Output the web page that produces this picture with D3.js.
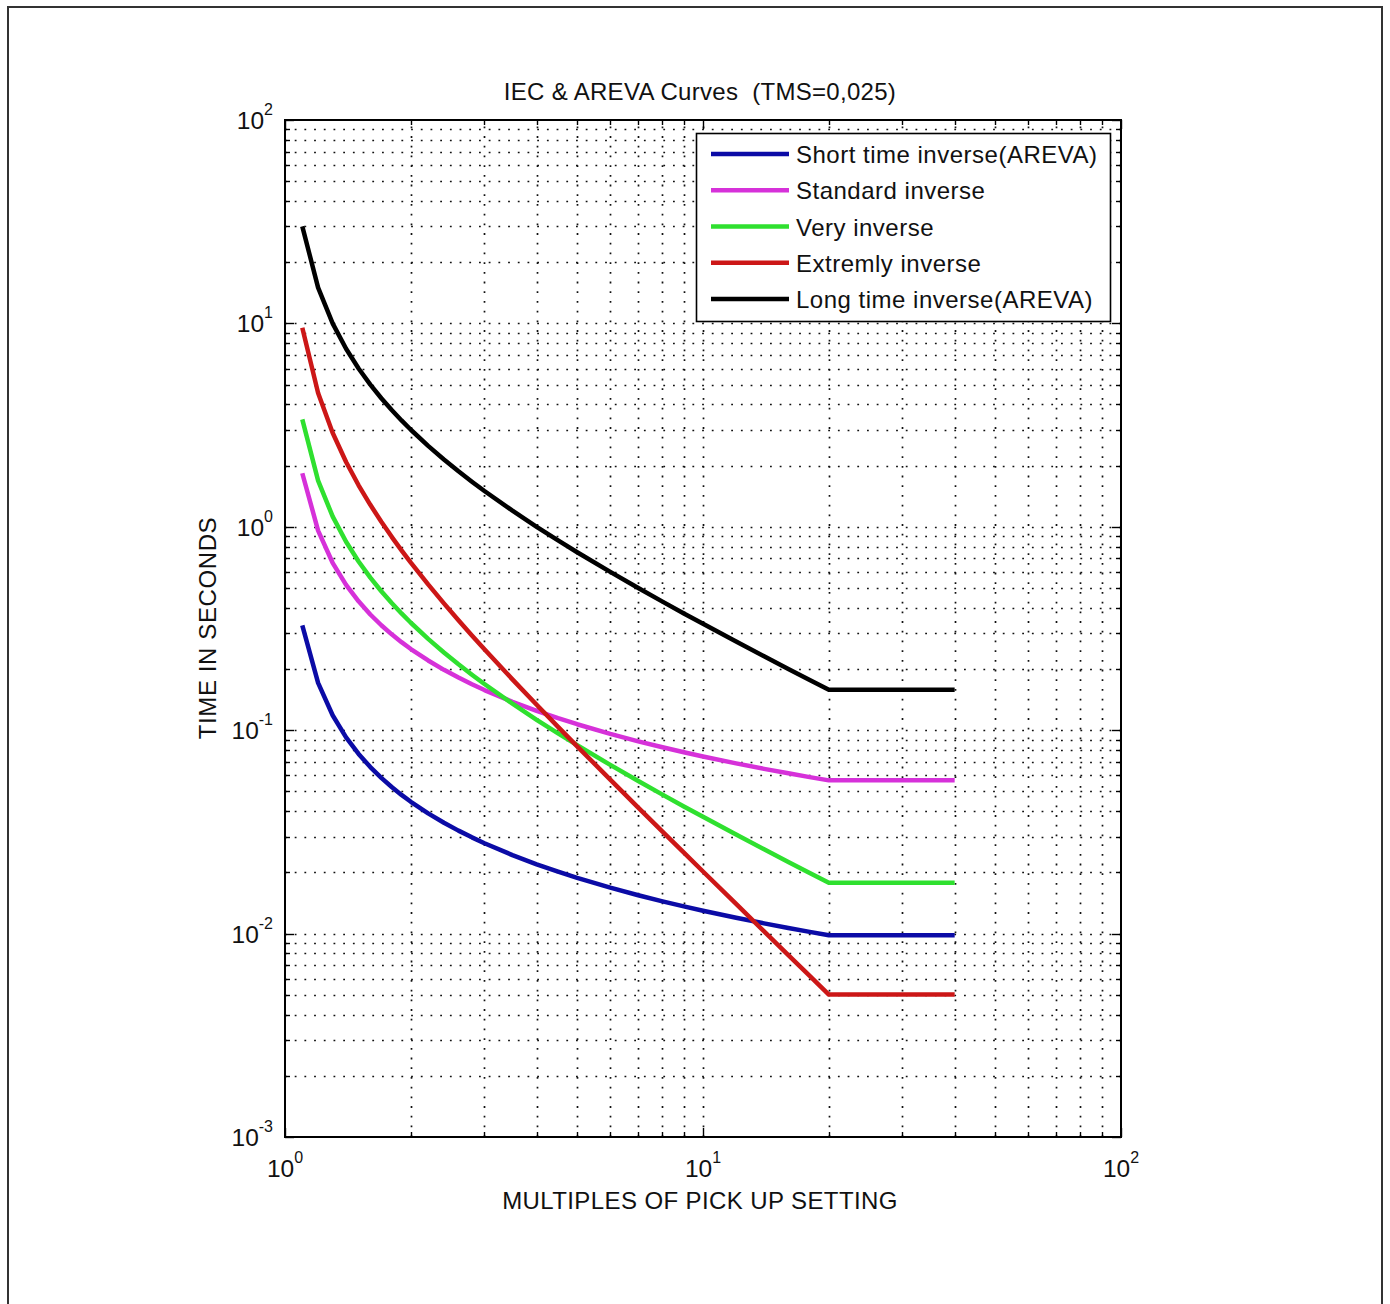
<!DOCTYPE html>
<html>
<head>
<meta charset="utf-8">
<script src="https://cdn.jsdelivr.net/npm/d3@7"></script>
<style>
  html, body { margin: 0; padding: 0; background: #fff; }
  svg { display: block; font-family: "Liberation Sans", Arial, Helvetica, sans-serif; }
  text { white-space: pre; }
</style>
</head>
<body>
<svg id="chart" width="1390" height="1304"></svg>
<script>
// ---- data (TMS = 0.025) ----
const multiples = [1.1,1.2,1.3,1.4,1.5,1.6,1.7,1.8,1.9,2,2.2,2.4,2.6,2.8,3,3.5,4,4.5,5,6,7,8,9,10,12,14,16,18,20,40];

const shortTimeInverse = [0.3273,0.1708,0.1185,0.09225,0.07645,0.06587,0.05827,0.05254,0.04806,0.04446,0.03901,0.03507,0.03208,0.02973,0.02782,0.02433,0.02192,0.02016,0.01880,0.01682,0.01544,0.01441,0.01361,0.01296,0.01197,0.01123,0.01066,0.01020,0.009819,0.009819];
const standardInverse = [1.834,0.9581,0.6653,0.5184,0.4299,0.3706,0.3281,0.2960,0.2709,0.2507,0.2202,0.1981,0.1814,0.1682,0.1575,0.1379,0.1245,0.1146,0.1070,0.09593,0.08819,0.08242,0.07791,0.07427,0.06869,0.06455,0.06138,0.05881,0.05668,0.05668];
const veryInverse = [3.375,1.6875,1.125,0.84375,0.675,0.5625,0.48214,0.42188,0.375,0.3375,0.28125,0.24107,0.21094,0.1875,0.16875,0.135,0.1125,0.096429,0.084375,0.0675,0.05625,0.048214,0.042188,0.0375,0.030682,0.025962,0.0225,0.019853,0.017763,0.017763];
const extremelyInverse = [9.5238,4.5455,2.8986,2.0833,1.6,1.2821,1.0582,0.89286,0.76628,0.66667,0.52083,0.42017,0.34722,0.29240,0.25,0.17778,0.13333,0.10390,0.083333,0.057143,0.041667,0.031746,0.025,0.020202,0.013986,0.010256,0.0078431,0.0061920,0.0050125,0.0050125];
const longTimeInverse = [30,15,10,7.5,6,5,4.2857,3.75,3.3333,3,2.5,2.1429,1.875,1.6667,1.5,1.2,1,0.85714,0.75,0.6,0.5,0.42857,0.375,0.33333,0.27273,0.23077,0.2,0.17647,0.15789,0.15789];

const seriesNames = ["Short time inverse(AREVA)","Standard inverse","Very inverse","Extremly inverse","Long time inverse(AREVA)"];
const seriesValues = [shortTimeInverse, standardInverse, veryInverse, extremelyInverse, longTimeInverse];
const seriesColors = ["#0b0ba6","#d631d9","#2fe02f","#cc1717","#000000"];

const xTickExponents = [0, 1, 2];
const yTickExponents = [-3, -2, -1, 0, 1, 2];

const titleText = "IEC & AREVA Curves  (TMS=0,025)";
const xLabelText = "MULTIPLES OF PICK UP SETTING";
const yLabelText = "TIME IN SECONDS";

// ---- layout ----
const L = 285, R = 1121, T = 120, B = 1137;
const svg = d3.select("#chart");

// outer frame
svg.append("rect").attr("x", 8).attr("y", 7).attr("width", 1374).attr("height", 1310)
  .attr("fill", "none").attr("stroke", "#333").attr("stroke-width", 2);

const x = d3.scaleLog().domain([1, 100]).range([L, R]);
const y = d3.scaleLog().domain([1e-3, 1e2]).range([B, T]);

// grid values
const xGrid = [];
[1, 10].forEach(d => { for (let k = 1; k <= 9; k++) xGrid.push(d * k); });
xGrid.push(100);
const yGrid = [];
[1e-3, 1e-2, 1e-1, 1, 10].forEach(d => { for (let k = 1; k <= 9; k++) yGrid.push(d * k); });
yGrid.push(100);

const grid = svg.append("g").attr("stroke", "#111").attr("stroke-width", 1.7)
  .attr("stroke-dasharray", "1.8,7.9").attr("fill", "none");
grid.selectAll("line.gx").data(xGrid.filter(v => v > 1 && v < 100)).join("line")
  .attr("x1", d => Math.round(x(d)) + 0.5).attr("x2", d => Math.round(x(d)) + 0.5)
  .attr("y1", B).attr("y2", T);
grid.selectAll("line.gy").data(yGrid.filter(v => v > 1e-3 && v < 100)).join("line")
  .attr("class", "gy")
  .attr("y1", d => Math.round(y(d)) + 0.5).attr("y2", d => Math.round(y(d)) + 0.5)
  .attr("x1", L).attr("x2", R);

// ticks (inward, all four sides)
const isMajor = v => Math.abs(Math.log10(v) - Math.round(Math.log10(v))) < 1e-9;
const ticks = svg.append("g").attr("stroke", "#000").attr("stroke-width", 1.4);
xGrid.forEach(v => {
  const len = isMajor(v) ? 9 : 5;
  const px = Math.round(x(v)) + 0.5;
  ticks.append("line").attr("x1", px).attr("x2", px).attr("y1", B).attr("y2", B - len);
  ticks.append("line").attr("x1", px).attr("x2", px).attr("y1", T).attr("y2", T + len);
});
yGrid.forEach(v => {
  const len = isMajor(v) ? 9 : 5;
  const py = Math.round(y(v)) + 0.5;
  ticks.append("line").attr("y1", py).attr("y2", py).attr("x1", L).attr("x2", L + len);
  ticks.append("line").attr("y1", py).attr("y2", py).attr("x1", R).attr("x2", R - len);
});

// curves
const line = d3.line().x(d => x(d[0])).y(d => y(d[1]));
const curves = svg.append("g").attr("fill", "none").attr("stroke-width", 4.5)
  .attr("stroke-linejoin", "round");
seriesValues.forEach((vals, i) => {
  curves.append("path")
    .datum(multiples.map((m, j) => [m, vals[j]]))
    .attr("stroke", seriesColors[i])
    .attr("d", line);
});

// axis box
svg.append("rect").attr("x", L).attr("y", T).attr("width", R - L).attr("height", B - T)
  .attr("fill", "none").attr("stroke", "#000").attr("stroke-width", 2);

// tick labels
const labFont = 24.5, expFont = 16;
xTickExponents.forEach(e => {
  const t = svg.append("text").attr("x", x(Math.pow(10, e))).attr("y", 1177)
    .attr("text-anchor", "middle").attr("font-size", labFont).attr("fill", "#111");
  t.append("tspan").text("10");
  t.append("tspan").attr("dy", -14).attr("font-size", expFont).text(String(e));
});
yTickExponents.forEach(e => {
  const t = svg.append("text").attr("x", 273).attr("y", y(Math.pow(10, e)) + 9)
    .attr("text-anchor", "end").attr("font-size", labFont).attr("fill", "#111");
  t.append("tspan").text("10");
  t.append("tspan").attr("dy", -14).attr("font-size", expFont).text(String(e));
});

// title and axis labels
svg.append("text").attr("x", 700).attr("y", 100).attr("text-anchor", "middle")
  .attr("font-size", 24).attr("letter-spacing", 0.3).attr("fill", "#111").text(titleText);
svg.append("text").attr("x", 700).attr("y", 1209).attr("text-anchor", "middle")
  .attr("font-size", 24).attr("letter-spacing", 0.4).attr("fill", "#111").text(xLabelText);
svg.append("text").attr("transform", "translate(216,628) rotate(-90)").attr("text-anchor", "middle")
  .attr("font-size", 24).attr("letter-spacing", 0.6).attr("fill", "#111").text(yLabelText);

// legend
const lg = svg.append("g");
lg.append("rect").attr("x", 696.5).attr("y", 133.5).attr("width", 414).attr("height", 188)
  .attr("fill", "#fff").attr("stroke", "#000").attr("stroke-width", 1.6);
const legendY = d3.scalePoint().domain(seriesNames).range([154, 299]);
seriesNames.forEach((name, i) => {
  const yy = legendY(name);
  lg.append("line").attr("x1", 711).attr("x2", 789).attr("y1", yy).attr("y2", yy)
    .attr("stroke", seriesColors[i]).attr("stroke-width", 4.5);
  lg.append("text").attr("x", 796).attr("y", yy + 9).attr("font-size", 24)
    .attr("letter-spacing", 0.5).attr("fill", "#111").text(name);
});
</script>
</body>
</html>
